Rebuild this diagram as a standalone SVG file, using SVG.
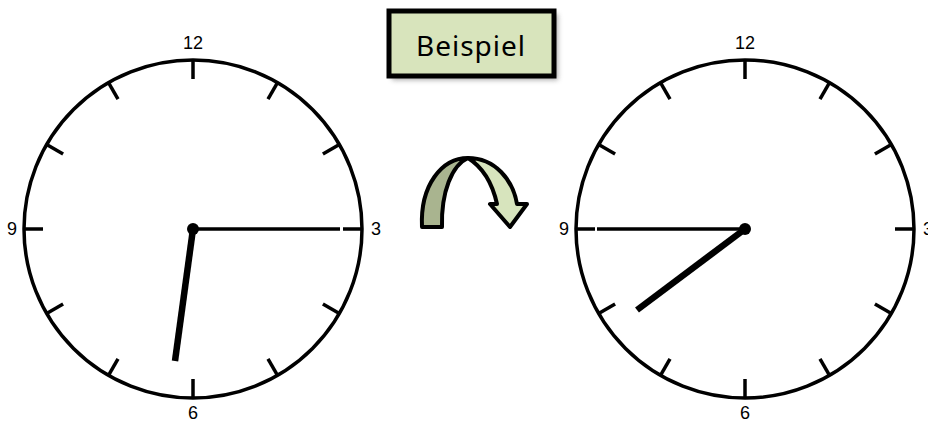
<svg xmlns="http://www.w3.org/2000/svg" width="928" height="425" viewBox="0 0 928 425">
<style>
.face{fill:none;stroke:#000;stroke-width:3.5}
.tick{stroke:#000;stroke-width:3.5}
.num{font-family:"Liberation Sans",Arial,sans-serif;font-size:18px;fill:#000;text-anchor:middle}
.min{stroke:#000;stroke-width:3.5;stroke-linecap:butt}
.hour{stroke:#000;stroke-width:6.5;stroke-linecap:butt}
</style>
<defs>
<filter id="sh" x="-20%" y="-20%" width="150%" height="160%"><feGaussianBlur stdDeviation="2.5"/></filter>
<g id="ticks">
<line class="tick" x1="0" y1="-169" x2="0" y2="-150"/>
<line class="tick" x1="0" y1="-169" x2="0" y2="-150" transform="rotate(30)"/>
<line class="tick" x1="0" y1="-169" x2="0" y2="-150" transform="rotate(60)"/>
<line class="tick" x1="0" y1="-169" x2="0" y2="-150" transform="rotate(90)"/>
<line class="tick" x1="0" y1="-169" x2="0" y2="-150" transform="rotate(120)"/>
<line class="tick" x1="0" y1="-169" x2="0" y2="-150" transform="rotate(150)"/>
<line class="tick" x1="0" y1="-169" x2="0" y2="-150" transform="rotate(180)"/>
<line class="tick" x1="0" y1="-169" x2="0" y2="-150" transform="rotate(210)"/>
<line class="tick" x1="0" y1="-169" x2="0" y2="-150" transform="rotate(240)"/>
<line class="tick" x1="0" y1="-169" x2="0" y2="-150" transform="rotate(270)"/>
<line class="tick" x1="0" y1="-169" x2="0" y2="-150" transform="rotate(300)"/>
<line class="tick" x1="0" y1="-169" x2="0" y2="-150" transform="rotate(330)"/>
</g>
</defs>
<rect width="928" height="425" fill="#fff"/>

<g id="clock-left" transform="translate(193,229)">
<circle class="face" r="169"/>
<use href="#ticks"/>
<text class="num" x="0" y="-180">12</text>
<text class="num" x="183" y="6">3</text>
<text class="num" x="0" y="190">6</text>
<text class="num" x="-181" y="6">9</text>
<line class="min" x1="0" y1="0" x2="147" y2="0"/>
<line class="hour" x1="0" y1="0" x2="-18" y2="132"/>
<circle r="6" fill="#000"/>
</g>

<g id="clock-right" transform="translate(745,229)">
<circle class="face" r="169"/>
<use href="#ticks"/>
<text class="num" x="0" y="-180">12</text>
<text class="num" x="183" y="6">3</text>
<text class="num" x="0" y="190">6</text>
<text class="num" x="-181" y="6">9</text>
<line class="min" x1="0" y1="0" x2="-148" y2="0"/>
<line class="hour" x1="0" y1="0" x2="-108" y2="81"/>
<circle r="6" fill="#000"/>
</g>

<g id="label-beispiel">
<rect x="392" y="14" width="166" height="66" fill="#888" opacity="0.7" filter="url(#sh)"/>
<rect x="389" y="11" width="165" height="65" fill="#d8e4bc" stroke="#000" stroke-width="5"/>
<text x="471" y="56" font-family="'Noto Sans','DejaVu Sans',sans-serif" font-size="28" letter-spacing="1" fill="#000" text-anchor="middle">Beispiel</text>
</g>

<g id="connectors">
<g id="arrow" stroke="#000" stroke-width="4" stroke-linejoin="round">
<path d="M468,158 C495,158 513,180 517,204 L527,204 L510,227 L490,204 L497,204 C493,186 484,168 468,158 Z" fill="#d7e4bd"/>
<path d="M422,227 C420,185 442,158 468,158 C452,165 441,192 442,227 Z" fill="#a9b48f"/>
</g>
</g>
</svg>
